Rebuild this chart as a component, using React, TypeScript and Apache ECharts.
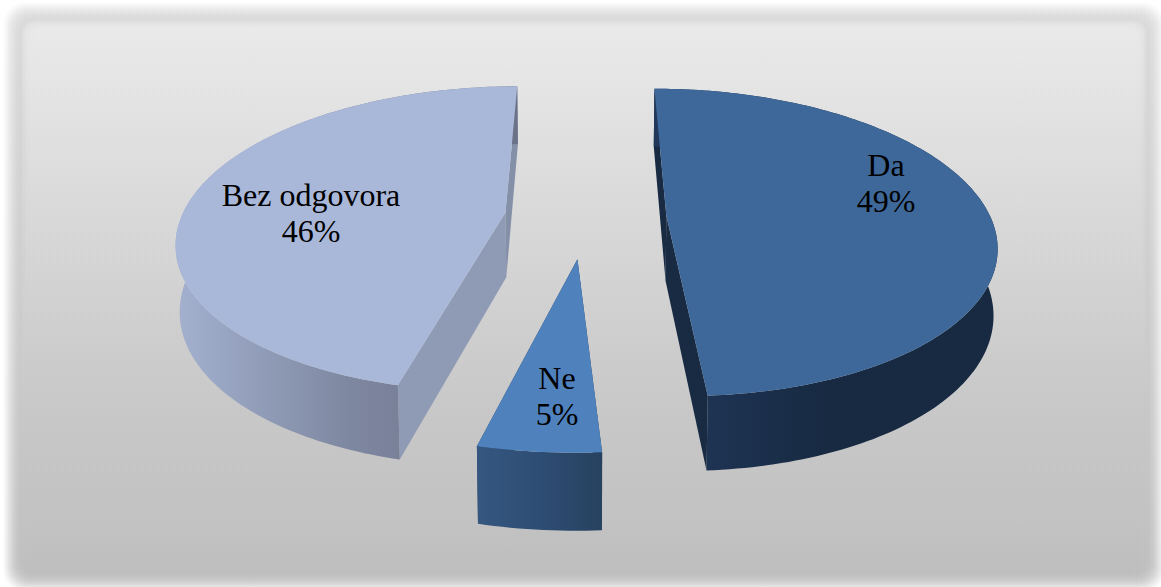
import React, { useEffect, useRef } from "react";
import * as echarts from "echarts";

const categories = ["Da", "Ne", "Bez odgovora"];
const values = [49, 4.8, 46.2];
const percentLabels = ["49%", "5%", "46%"];

const explode = [0.25, 0.27, 0.25];
const radiusU = [1, 1.02, 1];
const radiusV = [1, 0.97, 1];
const labelAnchors = [
  [886, 183],
  [557, 396],
  [311, 213],
];
const topColors = ["#3e6899", "#4f81bd", "#a9b8d9"];
const startWallColors = ["#182b43", "#27425f", "#8f9ab5"];
const endWallColors = ["#182b43", "#27425f", "#848fa8"];
const sideStops = [
  ["#21385a", "#172a42", "#172a42"],
  ["#355780", "#2e4d74", "#27425f"],
  ["#a3b1cf", "#7f88a1", "#6b7288"],
];

const X0 = 585.5;
const Y0 = 217;
const F = 324;
const H = 149.5;
const G = 0.173;
const DEPTH = 65;
const BOTTOM_SCALE_X = 0.99;
const BOTTOM_SCALE_Y = 0.98;

function project(u: number, v: number, low: boolean): number[] {
  const w = 1 - G * v;
  const sx = low ? BOTTOM_SCALE_X : 1;
  const sy = low ? BOTTOM_SCALE_Y : 1;
  return [X0 + (F * u * sx) / w, Y0 + (H * v * sy + (low ? DEPTH : 0)) / w];
}

function renderSlice(params: any, api: any) {
  const i = params.dataIndex;
  const total = values.reduce((a, b) => a + b, 0);
  let before = 0;
  for (let k = 0; k < i; k++) before += values[k];
  const a0 = (before / total) * Math.PI * 2;
  const a1 = ((before + api.value(0)) / total) * Math.PI * 2;
  const mid = (a0 + a1) / 2;
  const ox = explode[i] * Math.sin(mid);
  const oy = -explode[i] * Math.cos(mid);
  const n = Math.max(4, Math.round((a1 - a0) / 0.02));
  const top: number[][] = [];
  const low: number[][] = [];
  for (let k = 0; k <= n; k++) {
    const a = a0 + ((a1 - a0) * k) / n;
    const u = ox + radiusU[i] * Math.sin(a);
    const v = oy - radiusV[i] * Math.cos(a);
    top.push(project(u, v, false));
    low.push(project(u, v, true));
  }
  const apexTop = project(ox, oy, false);
  const apexLow = project(ox, oy, true);
  const xs = top.map((p) => p[0]);
  const minX = Math.min(...xs);
  const maxX = Math.max(...xs);
  const grad = new echarts.graphic.LinearGradient(
    minX, 0, maxX, 0,
    sideStops[i].map((color, idx) => ({ offset: idx / 2, color })),
    true
  );
  const poly = (points: number[][], fill: any) => ({
    type: "polygon",
    shape: { points },
    style: { fill, stroke: "none" },
  });
  return {
    type: "group",
    children: [
      poly([apexTop, top[0], low[0], apexLow], startWallColors[i]),
      poly([apexTop, top[n], low[n], apexLow], endWallColors[i]),
      poly([...top, ...low.slice().reverse()], grad),
      poly([apexTop, ...top], topColors[i]),
      {
        type: "text",
        style: {
          text: categories[i] + "\n" + percentLabels[i],
          x: labelAnchors[i][0],
          y: labelAnchors[i][1],
          align: "center",
          verticalAlign: "middle",
          textAlign: "center",
          textVerticalAlign: "middle",
          font: "32px 'Liberation Serif'",
          lineHeight: 36,
          fill: "#000000",
        },
      },
    ],
  };
}

function panelLayers() {
  const layers: any[] = [];
  const x0 = 3, y0 = 2, x1 = 1165, y1 = 592;
  const count = 34;
  for (let k = 0; k < count; k++) {
    const inset = k * 0.9;
    const inner = k >= 20;
    layers.push({
      type: "rect",
      z: 0,
      shape: {
        x: x0 + inset,
        y: y0 + inset,
        width: x1 - x0 - inset * 2,
        height: y1 - y0 - inset * 2,
        r: 22 - k * 0.4,
      },
      style: {
        fill: new echarts.graphic.LinearGradient(0, 0, 0, 1, [
          { offset: 0, color: inner ? "#ececec" : "#d8d8d8" },
          { offset: 1, color: "#bcbcbc" },
        ]),
        opacity: inner ? 0.16 : 0.05 + k * 0.009,
      },
    });
  }
  return layers;
}

export default function App() {
  const ref = useRef<HTMLDivElement>(null);
  useEffect(() => {
    document.body.style.margin = "0";
    const chart = echarts.init(ref.current!, null, { renderer: "svg" });
    chart.setOption({
      animation: false,
      backgroundColor: "#ffffff",
      graphic: panelLayers(),
      series: [
        {
          type: "custom",
          coordinateSystem: "none",
          z: 5,
          renderItem: renderSlice,
          data: values.map((v, i) => ({ name: categories[i], value: [v] })),
        },
      ],
    });
    return () => chart.dispose();
  }, []);
  return <div ref={ref} style={{ width: 1161, height: 587 }} />;
}
